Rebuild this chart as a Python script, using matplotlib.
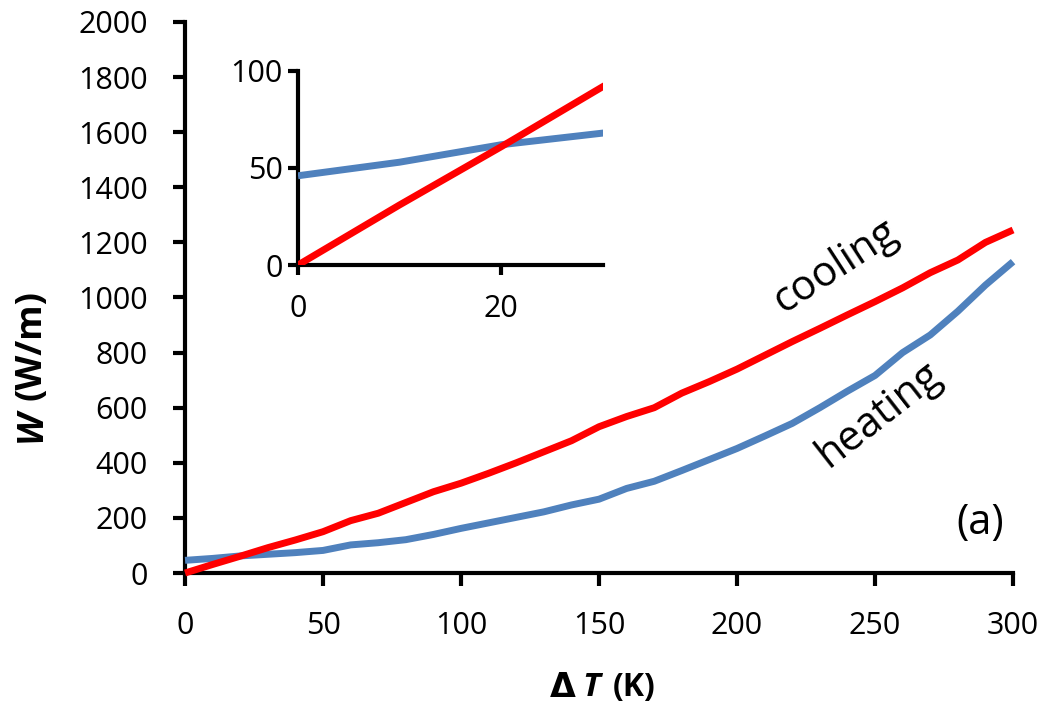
import matplotlib.pyplot as plt
import numpy as np

# temperature difference (K)
dT = [0, 10, 20, 30, 40, 50, 60, 70, 80, 90, 100, 110, 120, 130, 140, 150,
      160, 170, 180, 190, 200, 210, 220, 230, 240, 250, 260, 270, 280, 290, 300]
# power per metre (W/m)
cooling = [0, 31, 61, 92, 120, 150, 190, 217, 256, 295, 326, 362, 400, 440, 480, 531,
           568, 600, 653, 695, 740, 790, 840, 888, 937, 985, 1035, 1090, 1136, 1200, 1245]
heating = [46, 53, 62, 68, 74, 82, 102, 110, 121, 140, 162, 182, 202, 222, 247, 268,
           307, 333, 372, 412, 452, 497, 543, 600, 660, 717, 800, 864, 950, 1045, 1130]

red = '#FF0000'
blue = '#4F81BD'

plt.rcParams['font.family'] = ['Open Sans', 'DejaVu Sans']

fig = plt.figure(figsize=(10.46, 7.09), dpi=100)
ax = fig.add_axes([0.1769, 0.1918, 0.7916, 0.7772])

ax.plot(dT, heating, color=blue, lw=5, solid_capstyle='butt', clip_on=False, zorder=3)
ax.plot(dT, cooling, color=red, lw=5, solid_capstyle='butt', clip_on=False, zorder=4)

ax.set_xlim(0, 300)
ax.set_ylim(0, 2000)
ax.set_xticks(range(0, 301, 50))
ax.set_yticks(range(0, 2001, 200))
for s in ['top', 'right']:
    ax.spines[s].set_visible(False)
for s in ['left', 'bottom']:
    ax.spines[s].set_linewidth(3)
ax.tick_params(direction='out', length=9, width=3, labelsize=22)
ax.tick_params(axis='x', pad=18)
ax.tick_params(axis='y', pad=18)

# x label: "ΔT (K)" with italic T
fig.text(563 / 1046, 0.031, 'Δ', fontsize=24, fontweight='bold', ha='center', va='center',
         family='DejaVu Sans')
fig.text(591 / 1046, 0.031, 'T', fontsize=24, fontweight='bold', style='italic',
         ha='center', va='center')
fig.text(634 / 1046, 0.031, '(K)', fontsize=23, fontweight='bold', ha='center', va='center')

# y label: "W (W/m)" with italic W
fig.text(0.030, 0.399, 'W', fontsize=26, fontweight='bold', style='italic', rotation=90,
         ha='center', va='center')
fig.text(0.030, 0.513, '(W/m)', fontsize=26, fontweight='bold', rotation=90,
         ha='center', va='center')

ax.text(238, 1080, 'cooling', fontsize=30, rotation=33, ha='center', va='baseline',
        rotation_mode='anchor')
ax.text(254, 542, 'heating', fontsize=30, rotation=38, ha='center', va='baseline',
        rotation_mode='anchor')
ax.text(288, 181, '(a)', fontsize=30, ha='center', va='center')

# inset
ins = fig.add_axes([0.2849, 0.6262, 0.2916, 0.2737])
ins.plot(dT, heating, color=blue, lw=5, solid_capstyle='butt', zorder=3)
ins.plot(dT, cooling, color=red, lw=5, solid_capstyle='butt', zorder=4)
ins.set_xlim(0, 30)
ins.set_ylim(0, 100)
ins.set_xticks([0, 20])
ins.set_yticks([0, 50, 100])
for s in ['top', 'right']:
    ins.spines[s].set_visible(False)
for s in ['left', 'bottom']:
    ins.spines[s].set_linewidth(3)
ins.tick_params(direction='out', length=7, width=3, labelsize=22)
ins.tick_params(axis='x', pad=14)
ins.tick_params(axis='y', pad=4)

fig.savefig('out.png', dpi=100)
